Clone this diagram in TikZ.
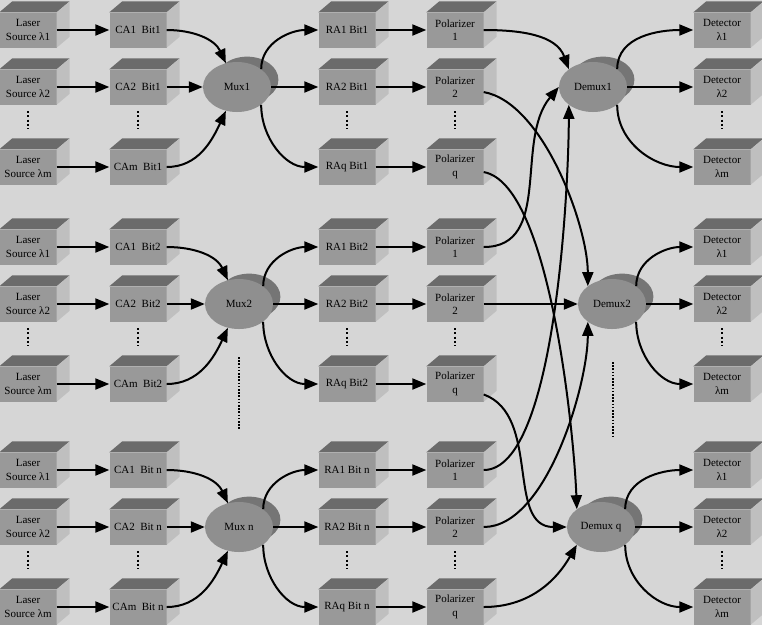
\documentclass[tikz,border=0pt]{standalone}
\usepackage{fontspec}
\setmainfont{Liberation Serif}
\usetikzlibrary{arrows.meta,shapes.geometric,shadows}

\definecolor{paper}{gray}{0.84}
\definecolor{boxfront}{gray}{0.60}
\definecolor{boxtop}{gray}{0.42}
\definecolor{boxside}{gray}{0.75}
\definecolor{hubfront}{gray}{0.56}
\definecolor{hubback}{gray}{0.46}

\tikzset{
  unit/.style={rectangle,fill=boxfront,minimum width=57pt,minimum height=35pt,
    inner sep=1pt,align=center,font=\fontsize{11}{13.5}\selectfont},
  hub/.style={ellipse,fill=hubfront,minimum width=68pt,minimum height=50pt,
    inner sep=0pt,font=\fontsize{11}{13.5}\selectfont,
    general shadow={fill=hubback,shadow xshift=11pt,shadow yshift=8pt,shadow scale=.92}},
  link/.style={draw,line width=2pt,-{Triangle[length=14pt,width=11pt]}},
  fewdots/.style={line width=2.2pt,dash pattern=on 2pt off 2.3pt},
  manydots/.style={line width=1.6pt,dash pattern=on 1.6pt off 1.6pt}
}

\begin{document}
\begin{tikzpicture}[x=1pt,y=1pt]

  \fill[paper] (0,0) rectangle (762,-625);
  \useasboundingbox (0,0) rectangle (762,-625);

  \begin{scope}[every node/.style={unit}]
    % block 1
    \node (L11) at (28,-30)  {Laser\\Source λ1};
    \node (L12) at (28,-87)  {Laser\\Source λ2};
    \node (L1m) at (28,-167) {Laser\\Source λm};
    \node (C11) at (138,-30)  {CA1~~Bit1};
    \node (C12) at (138,-87)  {CA2~~Bit1};
    \node (C1m) at (138,-167) {CAm~~Bit1};
    \node (R11) at (347,-30)  {RA1 Bit1};
    \node (R12) at (347,-87)  {RA2 Bit1};
    \node (R1q) at (347,-167) {RAq Bit1};
    \node (P11) at (455,-30)  {Polarizer\\1};
    \node (P12) at (455,-87)  {Polarizer\\2};
    \node (P1q) at (455,-167) {Polarizer\\q};
    \node (T11) at (722,-30)  {Detector\\λ1};
    \node (T12) at (722,-87)  {Detector\\λ2};
    \node (T1m) at (722,-167) {Detector\\λm};
    % block 2
    \node (L21) at (28,-247) {Laser\\Source λ1};
    \node (L22) at (28,-304) {Laser\\Source λ2};
    \node (L2m) at (28,-384) {Laser\\Source λm};
    \node (C21) at (138,-247) {CA1~~Bit2};
    \node (C22) at (138,-304) {CA2~~Bit2};
    \node (C2m) at (138,-384) {CAm~~Bit2};
    \node (R21) at (347,-247) {RA1 Bit2};
    \node (R22) at (347,-304) {RA2 Bit2};
    \node (R2q) at (347,-384) {RAq Bit2};
    \node (P21) at (455,-247) {Polarizer\\1};
    \node (P22) at (455,-304) {Polarizer\\2};
    \node (P2q) at (455,-384) {Polarizer\\q};
    \node (T21) at (722,-247) {Detector\\λ1};
    \node (T22) at (722,-304) {Detector\\λ2};
    \node (T2m) at (722,-384) {Detector\\λm};
    % block n
    \node (Ln1) at (28,-470) {Laser\\Source λ1};
    \node (Ln2) at (28,-527) {Laser\\Source λ2};
    \node (Lnm) at (28,-607) {Laser\\Source λm};
    \node (Cn1) at (138,-470) {CA1~~Bit n};
    \node (Cn2) at (138,-527) {CA2~~Bit n};
    \node (Cnm) at (138,-607) {CAm~~Bit n};
    \node (Rn1) at (347,-470) {RA1 Bit n};
    \node (Rn2) at (347,-527) {RA2 Bit n};
    \node (Rnq) at (347,-607) {RAq Bit n};
    \node (Pn1) at (455,-470) {Polarizer\\1};
    \node (Pn2) at (455,-527) {Polarizer\\2};
    \node (Pnq) at (455,-607) {Polarizer\\q};
    \node (Tq1) at (722,-470) {Detector\\λ1};
    \node (Tq2) at (722,-527) {Detector\\λ2};
    \node (Tqm) at (722,-607) {Detector\\λm};
  \end{scope}

  \begin{scope}[every node/.style={hub}]
    \node (M1) at (237,-87)  {Mux1};
    \node (M2) at (239,-304) {Mux2};
    \node (Mn) at (239,-527) {Mux n};
    \node (D1) at (593,-87)  {Demux1};
    \node (D2) at (612,-304) {Demux2};
    \node (Dq) at (601,-527) {Demux q};
  \end{scope}

  % top and side faces of the boxes
  \foreach \n in {L11,L12,L1m,L21,L22,L2m,Ln1,Ln2,Lnm,
                  C11,C12,C1m,C21,C22,C2m,Cn1,Cn2,Cnm,
                  R11,R12,R1q,R21,R22,R2q,Rn1,Rn2,Rnq,
                  P11,P12,P1q,P21,P22,P2q,Pn1,Pn2,Pnq,
                  T11,T12,T1m,T21,T22,T2m,Tq1,Tq2,Tqm} {
    \fill[boxtop] (\n.north west) -- ([shift={(13,11)}]\n.north west)
      -- ([shift={(13,11)}]\n.north east) -- (\n.north east) -- cycle;
    \fill[boxside] (\n.north east) -- ([shift={(13,11)}]\n.north east)
      -- ([shift={(13,11)}]\n.south east) -- (\n.south east) -- cycle;
  }

  % skipped rows and blocks
  \foreach \x in {28,138,347,455,722}
    \foreach \y in {111,328,551}
      \draw[fewdots] (\x,-\y) -- (\x,-\y-18);
  \draw[manydots] (239,-357) -- (239,-430);
  \draw[manydots] (613,-362) -- (613,-437);

  \begin{scope}[every edge/.style={link}]
    % block 1
    \path (L11) edge (C11);
    \path (L12) edge (C12);
    \path (L1m) edge (C1m);
    \path (C11) edge[out=0,in=115] (M1);
    \path (C12) edge (M1);
    \path (C1m) edge[out=0,in=-115] (M1);
    \path (M1.north east) edge[out=90,in=180] (R11);
    \path (M1) edge (R12);
    \path (M1.south east) edge[out=-90,in=180] (R1q);
    \path (R11) edge (P11);
    \path (R12) edge (P12);
    \path (R1q) edge (P1q);
    % block 2
    \path (L21) edge (C21);
    \path (L22) edge (C22);
    \path (L2m) edge (C2m);
    \path (C21) edge[out=0,in=115] (M2);
    \path (C22) edge (M2);
    \path (C2m) edge[out=0,in=-115] (M2);
    \path (M2.north east) edge[out=90,in=180] (R21);
    \path (M2) edge (R22);
    \path (M2.south east) edge[out=-90,in=180] (R2q);
    \path (R21) edge (P21);
    \path (R22) edge (P22);
    \path (R2q) edge (P2q);
    % block n
    \path (Ln1) edge (Cn1);
    \path (Ln2) edge (Cn2);
    \path (Lnm) edge (Cnm);
    \path (Cn1) edge[out=0,in=115] (Mn);
    \path (Cn2) edge (Mn);
    \path (Cnm) edge[out=0,in=-115] (Mn);
    \path (Mn.north east) edge[out=90,in=180] (Rn1);
    \path (Mn) edge (Rn2);
    \path (Mn.south east) edge[out=-90,in=180] (Rnq);
    \path (Rn1) edge (Pn1);
    \path (Rn2) edge (Pn2);
    \path (Rnq) edge (Pnq);
    % polarizers to demultiplexers
    \path (P11) edge[out=0,in=110] (D1.north west);
    \path (P12) edge[out=-10,in=90,looseness=.7] (D2.north west);
    \path (P1q) edge[out=-10,in=92,looseness=.5] (Dq.north west);
    \path (P21) edge[out=0,in=-130] (D1.west);
    \path (P22) edge (D2);
    \path (P2q) edge[out=-20,in=180] (Dq.west);
    \path (Pn1) edge[out=0,in=-90,looseness=.5] (D1.south west);
    \path (Pn2) edge[out=0,in=-90,looseness=.7] (D2.south west);
    \path (Pnq) edge[out=0,in=-120] (Dq.south west);
    % demultiplexers to detectors
    \path (D1.north east) edge[out=90,in=180] (T11);
    \path (D1) edge (T12);
    \path (D1.south east) edge[out=-90,in=180] (T1m);
    \path (D2.north east) edge[out=90,in=180] (T21);
    \path (D2) edge (T22);
    \path (D2.south east) edge[out=-90,in=180] (T2m);
    \path (Dq.north east) edge[out=90,in=180] (Tq1);
    \path (Dq) edge (Tq2);
    \path (Dq.south east) edge[out=-90,in=180] (Tqm);
  \end{scope}

\end{tikzpicture}
\end{document}
